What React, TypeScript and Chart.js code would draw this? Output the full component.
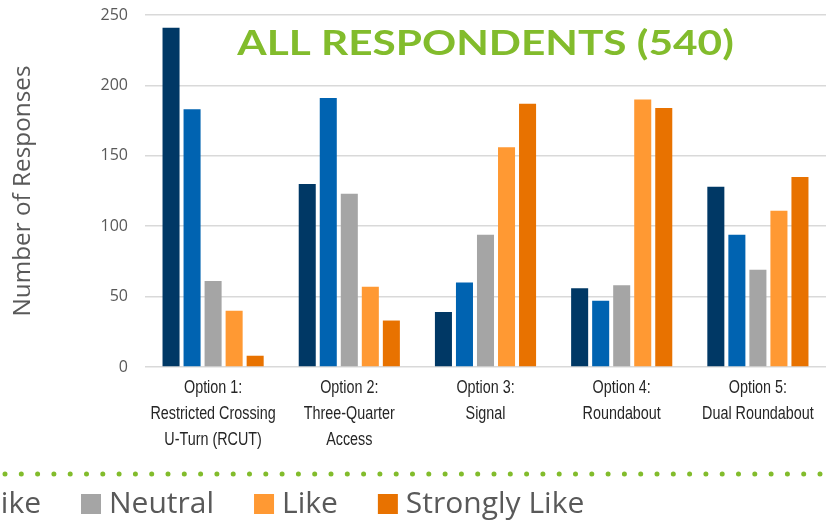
import React, { useEffect, useRef } from "react";
import { Chart, registerables } from "chart.js";

Chart.register(...registerables);

const categories: string[][] = [
  ["Option 1:", "Restricted Crossing", "U-Turn (RCUT)"],
  ["Option 2:", "Three-Quarter", "Access"],
  ["Option 3:", "Signal"],
  ["Option 4:", "Roundabout"],
  ["Option 5:", "Dual Roundabout"],
];
const seriesNames = ["Strongly Dislike", "Dislike", "Neutral", "Like", "Strongly Like"];
const stronglyDislike = [241, 130, 39, 56, 128];
const dislike = [183, 191, 60, 47, 94];
const neutral = [61, 123, 94, 58, 69];
const like = [40, 57, 156, 190, 111];
const stronglyLike = [8, 33, 187, 184, 135];
const seriesColors = ["#003865", "#0063B1", "#A5A5A5", "#FF9933", "#E87200"];
const chartTitle = "ALL RESPONDENTS (540)";
const yAxisTitle = "Number of Responses";
const yMin = 0;
const yMax = 250;
const yStep = 50;

const GREEN = "#82BC2C";
const TEXT_GRAY = "#595959";

const overlayPlugin = {
  id: "overlay",
  afterDraw(chart: any) {
    const ctx = chart.ctx as CanvasRenderingContext2D;
    const area = chart.chartArea;
    const xScale = chart.scales.x;
    ctx.save();

    // Category labels (condensed), positioned by the x scale
    ctx.font = "17.5px 'Liberation Sans', Arial, sans-serif";
    ctx.fillStyle = "#262626";
    ctx.textAlign = "center";
    ctx.textBaseline = "middle";
    const labels = chart.data.labels as string[][];
    labels.forEach((lines, i) => {
      const x = xScale.getPixelForTick(i);
      lines.forEach((line, j) => {
        ctx.save();
        ctx.translate(x, area.bottom + 21 + j * 26);
        ctx.scale(0.82, 1);
        ctx.fillText(line, 0, 0);
        ctx.restore();
      });
    });

    // Title inside plot
    ctx.save();
    ctx.font = "bold 35px Lato, 'Open Sans', sans-serif";
    ctx.fillStyle = GREEN;
    ctx.textAlign = "center";
    ctx.textBaseline = "alphabetic";
    ctx.translate((area.left + area.right) / 2, area.top + 40);
    ctx.scale(1.21, 1);
    ctx.fillText(chartTitle, 0, 0);
    ctx.restore();

    // Dotted separator
    ctx.beginPath();
    ctx.setLineDash([0, 16.3]);
    ctx.lineCap = "round";
    ctx.lineWidth = 5;
    ctx.strokeStyle = GREEN;
    ctx.moveTo(5, 474);
    ctx.lineTo(830, 474);
    ctx.stroke();
    ctx.setLineDash([]);

    // Legend
    ctx.font = "30px 'Open Sans', sans-serif";
    ctx.textAlign = "left";
    ctx.textBaseline = "alphabetic";
    const box = 20;
    const gap = 8;
    const itemGap = 40;
    const ds = chart.data.datasets;
    const widths = ds.map((d: any) => ctx.measureText(d.label).width);
    let x = 81;
    for (let i = 1; i >= 0; i--) {
      x -= box + gap + widths[i] + itemGap;
    }
    for (let i = 0; i < ds.length; i++) {
      ctx.fillStyle = ds[i].backgroundColor;
      ctx.fillRect(x, 494, box, box);
      ctx.fillStyle = TEXT_GRAY;
      ctx.fillText(ds[i].label, x + box + gap, 513);
      x += box + gap + widths[i] + itemGap;
    }
    ctx.restore();
  },
};

export default function App() {
  const canvasRef = useRef<HTMLCanvasElement | null>(null);

  useEffect(() => {
    document.body.style.margin = "0";
    const canvas = canvasRef.current;
    if (!canvas) return;
    const values = [stronglyDislike, dislike, neutral, like, stronglyLike];
    const chart = new Chart(canvas, {
      type: "bar",
      data: {
        labels: categories,
        datasets: seriesNames.map((name, i) => ({
          label: name,
          data: values[i],
          backgroundColor: seriesColors[i],
          borderWidth: 0,
          categoryPercentage: 0.772,
          barPercentage: 0.81,
        })),
      },
      options: {
        animation: false,
        responsive: false,
        maintainAspectRatio: false,
        layout: { padding: { top: 15, right: 4, left: 0, bottom: 0 } },
        plugins: {
          legend: { display: false },
          title: { display: false },
          tooltip: { enabled: false },
        },
        scales: {
          x: {
            grid: { display: false, drawTicks: false },
            border: { display: false },
            ticks: { display: false },
            afterFit: (scale: any) => {
              scale.height = 154;
            },
          },
          y: {
            min: yMin,
            max: yMax,
            grid: { color: "#D9D9D9", lineWidth: 1.5, drawTicks: false },
            border: { display: false },
            ticks: {
              stepSize: yStep,
              color: TEXT_GRAY,
              font: { family: "'Open Sans', sans-serif", size: 16 },
              padding: 17,
            },
            title: {
              display: true,
              text: yAxisTitle,
              color: TEXT_GRAY,
              font: { family: "'Open Sans', sans-serif", size: 24.3 },
              padding: { top: 8, bottom: 0 },
            },
            afterFit: (scale: any) => {
              scale.width = 145;
              scale.paddingTop = 0;
              scale.paddingBottom = 0;
            },
          },
        },
      },
      plugins: [overlayPlugin],
    });
    return () => chart.destroy();
  }, []);

  return (
    <div style={{ position: "fixed", left: 0, top: 0, width: 830, height: 521, background: "#fff" }}>
      <canvas ref={canvasRef} width={830} height={521} style={{ width: 830, height: 521, display: "block" }} />
    </div>
  );
}
